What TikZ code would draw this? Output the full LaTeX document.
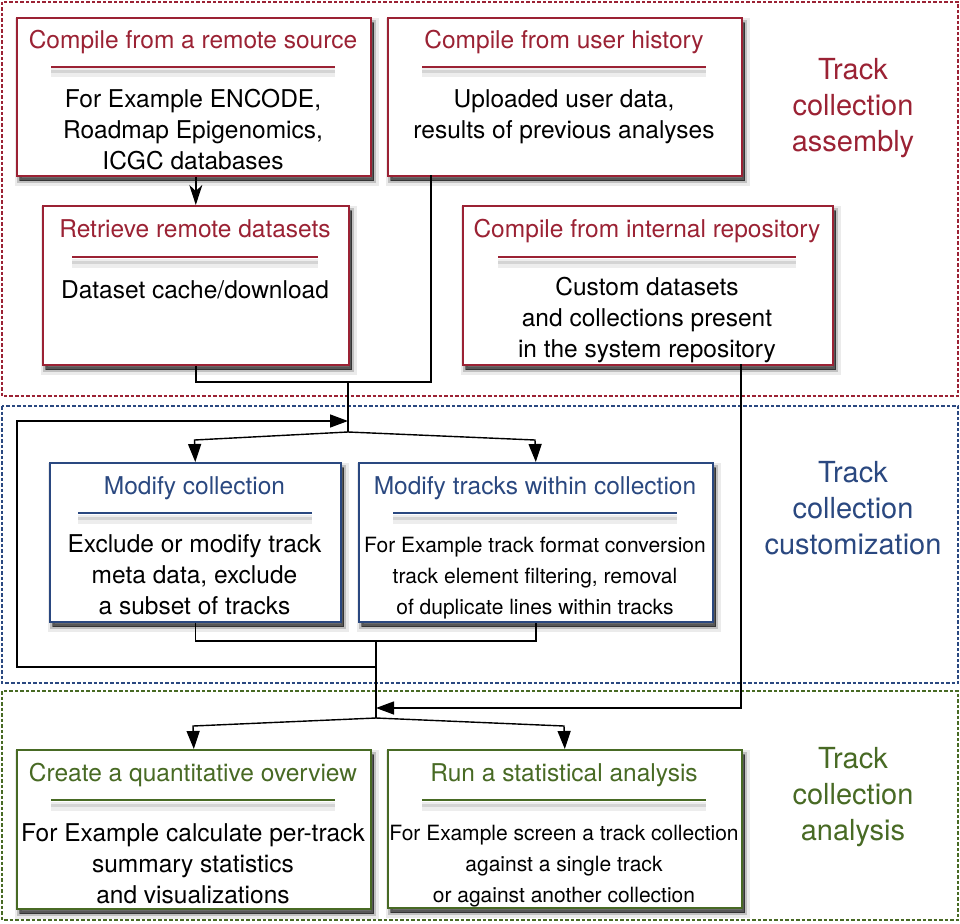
\documentclass[tikz,border=0pt]{standalone}
\usepackage{fontspec}
\setmainfont{TeX Gyre Heros}
\usetikzlibrary{arrows.meta,shadows}
\definecolor{cred}{RGB}{155,34,52}
\definecolor{cblue}{RGB}{42,72,128}
\definecolor{cgreen}{RGB}{72,106,36}
\begin{document}
\begin{tikzpicture}[x=1pt,y=-1pt,
  region/.style={draw=#1, dash pattern=on 3.5pt off 2pt, line width=1.3pt},
  stepbox/.style={draw=#1, line width=1.6pt, fill=white, anchor=north west, inner sep=0pt,
     drop shadow={shadow xshift=3pt,shadow yshift=-5pt,fill=black,draw=black,line width=10pt,opacity=0.08},
     drop shadow={shadow xshift=3pt,shadow yshift=-5pt,fill=black,draw=black,line width=5pt,opacity=0.18},
     drop shadow={shadow xshift=3pt,shadow yshift=-5pt,fill=black,draw=black,line width=1pt,opacity=0.4}},
  boxtitle/.style={text=#1, font=\fontsize{24.5}{30}\selectfont, text height=17.5pt, text depth=0pt, inner sep=0pt},
  body/.style={align=center, font=\fontsize{24.5}{31}\selectfont, inner sep=0pt},
  smallbody/.style={align=center, font=\fontsize{21}{31}\selectfont, inner sep=0pt},
  rlabel/.style={align=center, text=#1, font=\fontsize{29}{36}\selectfont, inner sep=0pt},
  line/.style={draw=black, line width=1.4pt},
  conn/.style={line, -{Triangle[length=18pt,width=13pt]}},
  sconn/.style={line, -{Stealth[length=20pt,width=13pt,inset=6pt]}}
]
\useasboundingbox (0,0) rectangle (960,923);
\fill[white] (0,0) rectangle (960,923);

% regions
\draw[region=cred] (2,2) rectangle (958,396);
\draw[region=cblue] (2,406) rectangle (958,683);
\draw[region=cgreen] (2,691) rectangle (958,920);

\node[rlabel=cred] (la) at (853,108) {Track\\collection\\assembly};
\node[rlabel=cblue] (lb) at (853,508) {Track\\collection\\customization};
\node[rlabel=cgreen] (lc) at (853,797) {Track\\collection\\analysis};

% boxes
\node[stepbox=cred, minimum width=354pt, minimum height=158pt] (r1) at (16,17) {};
\node[stepbox=cred, minimum width=354pt, minimum height=158pt] (r2) at (387,17) {};
\node[stepbox=cred, minimum width=306pt, minimum height=159pt] (r3) at (42,205) {};
\node[stepbox=cred, minimum width=370pt, minimum height=159pt] (r4) at (462,205) {};
\node[stepbox=cblue, minimum width=291pt, minimum height=159pt] (b1) at (49,462) {};
\node[stepbox=cblue, minimum width=354pt, minimum height=159pt] (b2) at (358,462) {};
\node[stepbox=cgreen, minimum width=354pt, minimum height=159pt] (g1) at (16,749) {};
\node[stepbox=cgreen, minimum width=354pt, minimum height=158pt] (g2) at (387,749) {};

% titles
\node[boxtitle=cred] (r1t) at (193,40) {Compile from a remote source};
\node[boxtitle=cred] (r2t) at (564,40) {Compile from user history};
\node[boxtitle=cred] (r3t) at (195,229) {Retrieve remote datasets};
\node[boxtitle=cred] (r4t) at (647,229) {Compile from internal repository};
\node[boxtitle=cblue] (b1t) at (194.5,486) {Modify collection};
\node[boxtitle=cblue] (b2t) at (535,486) {Modify tracks within collection};
\node[boxtitle=cgreen] (g1t) at (193,773) {Create a quantitative overview};
\node[boxtitle=cgreen] (g2t) at (564,773) {Run a statistical analysis};

% dividers
\foreach \xa/\xb/\yy/\cc in {51/335/67/cred, 422/706/67/cred, 72/318/257/cred, 498/796/257/cred,
    78/312/513/cblue, 393/677/513/cblue, 51/335/800/cgreen, 422/706/800/cgreen}{
  \draw[black, opacity=0.07, line width=9pt] (\xa,\yy+6) -- (\xb,\yy+6);
  \draw[black, opacity=0.1, line width=3pt] (\xa,\yy+5) -- (\xb,\yy+5);
  \draw[\cc, line width=1.6pt] (\xa,\yy) -- (\xb,\yy);
}

% bodies
\node[body] (r1b) at (193,130) {For Example ENCODE,\\Roadmap Epigenomics,\\ICGC databases};
\node[body] (r2b) at (564,117) {Uploaded user data,\\results of previous analyses};
\node[body] (r3b) at (195,290) {Dataset cache/download};
\node[body] (r4b) at (647,320) {Custom datasets\\and collections present\\in the system repository};
\node[body] (b1b) at (194.5,575) {Exclude or modify track\\meta data, exclude\\a subset of tracks};
\node[smallbody] (b2b) at (535,578) {For Example track format conversion\\track element filtering, removal\\of duplicate lines within tracks};
\node[body] (g1b) at (193,864) {For Example calculate per-track\\summary statistics\\and visualizations};
\node[smallbody] (g2b) at (564,866) {For Example screen a track collection\\against a single track\\or against another collection};

% connector points
\coordinate (r2o) at (431,175);
\coordinate (j1) at (348,382);
\coordinate (j2) at (348,432);
\coordinate (k1) at (194.5,440);
\coordinate (k2) at (535,440);
\coordinate (lp1) at (376,667);
\coordinate (lp2) at (17,667);
\coordinate (lp3) at (17,421);
\coordinate (lp4) at (348,421);
\coordinate (j3) at (376,641);
\coordinate (j4) at (376,718);
\coordinate (r4o) at (741,364);
\coordinate (r4c) at (741,708);
\coordinate (r4e) at (376,708);
\coordinate (k3) at (193,726);
\coordinate (k4) at (564,726);

% connectors
\draw[sconn] (r3.north |- r1.south) -- (r3.north);
\draw[line] (r3.south) |- (j1) -| (r2o);
\draw[line] (j1) -- (j2);
\draw[conn] (lp1) -- (lp2) -- (lp3) -- (lp4);
\draw[conn] (j2) -- (k1) -- (b1.north);
\draw[conn] (j2) -- (k2) -- (b2.north);
\draw[line] (b1.south) |- (j3) -| (b2.south);
\draw[line] (j3) -- (j4);
\draw[conn] (r4o) -- (r4c) -- (r4e);
\draw[conn] (j4) -- (k3) -- (g1.north);
\draw[conn] (j4) -- (k4) -- (g2.north);
\end{tikzpicture}
\end{document}
